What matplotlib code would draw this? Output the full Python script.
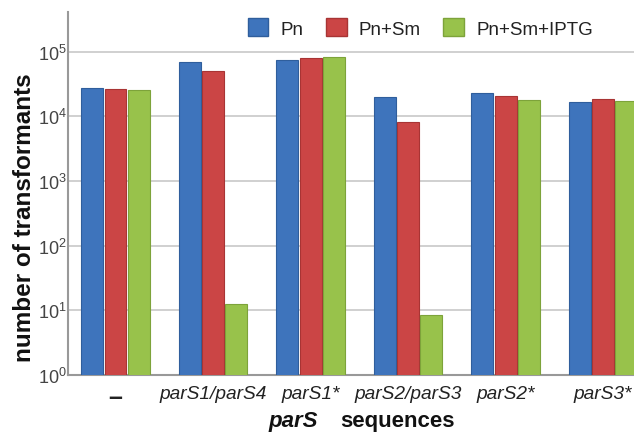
import matplotlib
matplotlib.use("Agg")
import matplotlib.pyplot as plt
import numpy as np
from matplotlib.patches import Patch

plt.rcParams['font.family'] = ['Liberation Sans', 'DejaVu Sans']

categories = ["\u2013", "parS1/parS4", "parS1*", "parS2/parS3", "parS2*", "parS3*"]
series_names = ["Pn", "Pn+Sm", "Pn+Sm+IPTG"]
pn = [2.7e4, 6.8e4, 7.4e4, 2.0e4, 2.25e4, 1.67e4]
pn_sm = [2.6e4, 5.0e4, 7.9e4, 8.1e3, 2.07e4, 1.86e4]
pn_sm_iptg = [2.55e4, 12.5, 8.1e4, 8.5, 1.77e4, 1.74e4]
colors = ["#3E74BC", "#CB4545", "#98C24B"]
edges = ["#2F5E9C", "#A83434", "#7DA33A"]

fig = plt.figure(figsize=(6.34, 4.35), dpi=100)
ax = fig.add_axes([0.1073, 0.1356, 0.9208, 0.8344])

x = np.arange(len(categories))
w = 0.225
offs = [-0.237, 0.0, 0.237]
for vals, off, c, e in zip([pn, pn_sm, pn_sm_iptg], offs, colors, edges):
    ax.bar(x + off, vals, width=w, bottom=0, color=c, edgecolor=e, linewidth=0.8, zorder=3)

ax.set_yscale('log')
ax.set_ylim(1, 10**5.61)
ax.set_xlim(-0.487, 5.5)
ax.set_yticks([1, 10, 100, 1e3, 1e4, 1e5])
ax.set_yticklabels([r"$\mathregular{10^{%d}}$" % i for i in range(6)], fontsize=13, color="#444444")
ax.yaxis.set_minor_locator(matplotlib.ticker.NullLocator())
ax.tick_params(axis='y', length=0, pad=1)
ax.grid(axis='y', color="#c8c8c8", linewidth=1.2, zorder=0)

ax.set_xticks(x)
labels = ax.set_xticklabels(categories, fontsize=13.8, style='italic', color="#222222")
labels[0].set_style('normal')
labels[0].set_fontweight('bold')
labels[0].set_fontsize(18)
ax.tick_params(axis='x', length=0, pad=7)

for s in ['top', 'right']:
    ax.spines[s].set_visible(False)
for s in ['left', 'bottom']:
    ax.spines[s].set_color("#999999")
    ax.spines[s].set_linewidth(1.5)

fig.text(0.038, 0.499, "number of transformants", rotation=90, fontsize=17.5,
         fontweight='bold', ha='center', va='center', color="#111111")
fig.text(0.5016, 0.030, "parS", fontsize=16, fontweight='bold', style='italic',
         ha='right', va='center', color="#111111")
fig.text(0.536, 0.030, "sequences", fontsize=16, fontweight='bold',
         ha='left', va='center', color="#111111")

handles = [Patch(facecolor=c, edgecolor=e, label=n) for c, e, n in zip(colors, edges, series_names)]
fig.legend(handles=handles, ncol=3, loc='center left', bbox_to_anchor=(0.364, 0.933),
           frameon=False, fontsize=13.5, handlelength=1.1, handleheight=1.1,
           handletextpad=0.65, columnspacing=1.2, labelcolor="#222222")

fig.savefig("out.png", dpi=100)
